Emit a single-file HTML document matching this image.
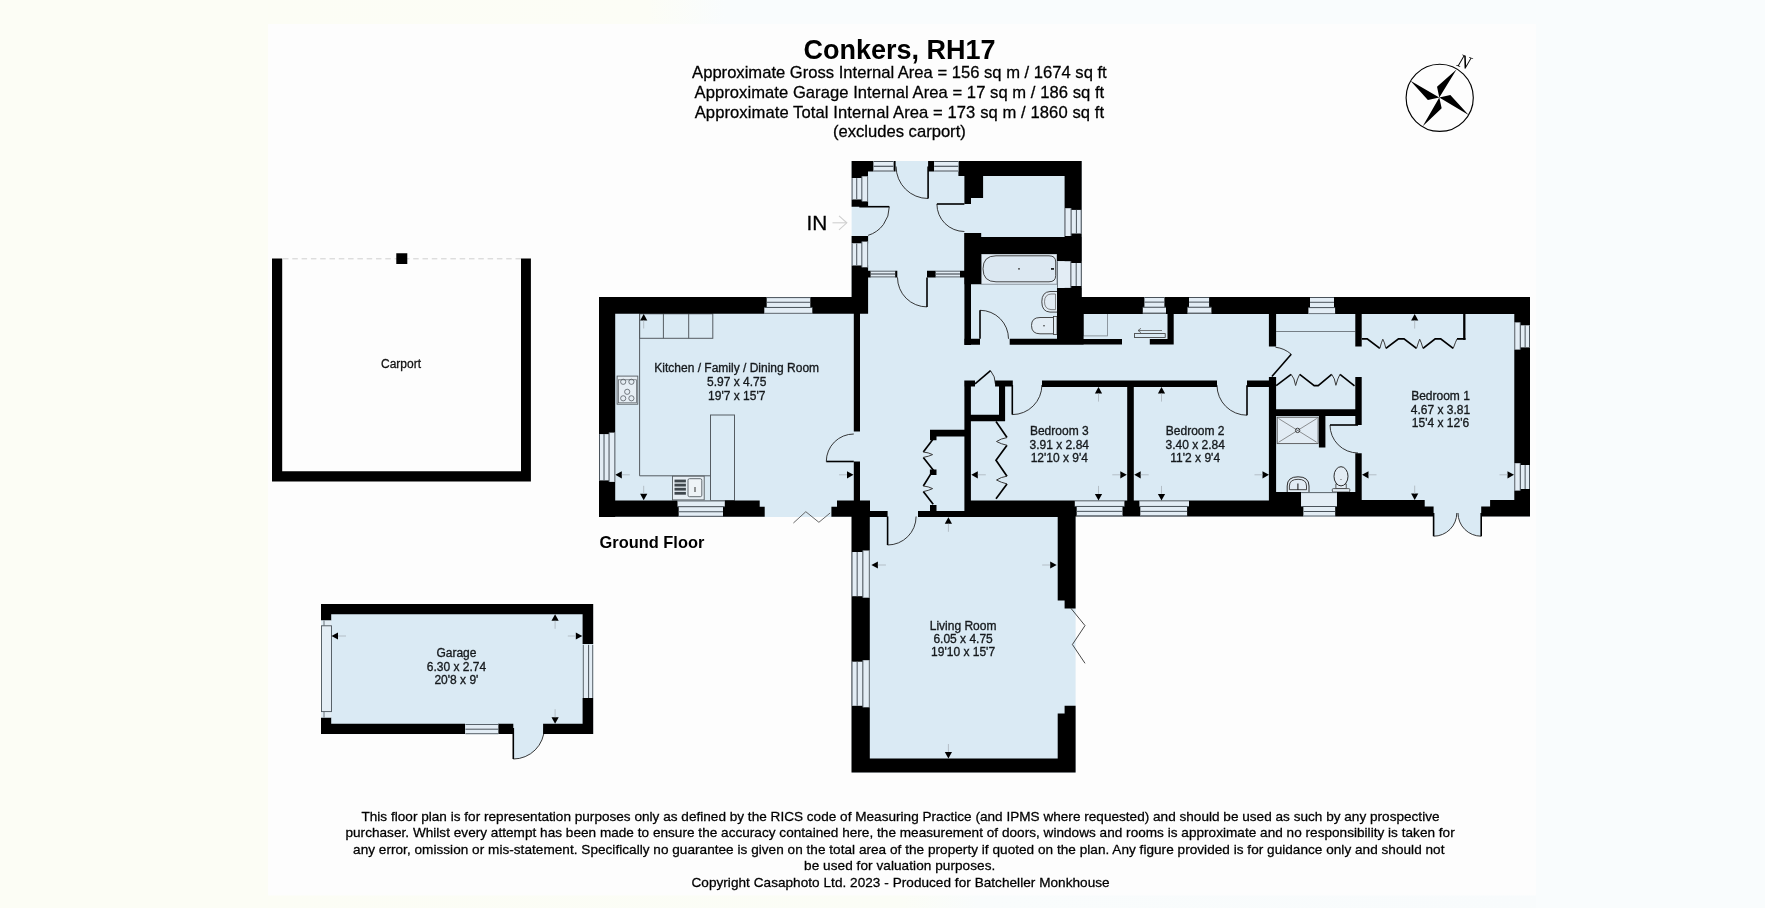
<!DOCTYPE html>
<html><head><meta charset="utf-8"><style>
html,body{margin:0;padding:0;background:#FDFDFD;}
svg{display:block;font-family:"Liberation Sans",sans-serif;will-change:transform;}
</style></head><body>
<svg width="1765" height="908" viewBox="0 0 1765 908">
<rect x="0" y="0" width="1765" height="908" fill="#FDFDFD" />
<rect x="0" y="0" width="268" height="908" fill="#FCFDF5" />
<defs><linearGradient id="tb" x1="0" x2="1" y1="0" y2="0"><stop offset="0" stop-color="#FCFDF5"/><stop offset="0.3" stop-color="#FCFDF6"/><stop offset="0.36" stop-color="#F9FCFD"/><stop offset="1" stop-color="#F9FCFD"/></linearGradient><linearGradient id="bb" x1="0" x2="1" y1="0" y2="0"><stop offset="0" stop-color="#FCFDF5"/><stop offset="0.5" stop-color="#FBFDF6"/><stop offset="0.56" stop-color="#F9FCFC"/><stop offset="1" stop-color="#F8FBFC"/></linearGradient></defs>
<rect x="268" y="0" width="1268" height="24" fill="url(#tb)" />
<rect x="1536" y="0" width="229" height="908" fill="#F9FCFD" />
<rect x="268" y="895.5" width="1268" height="12.5" fill="url(#bb)" />
<circle cx="1439.7" cy="97.8" r="33.6" fill="none" stroke="#000" stroke-width="1.15"/>
<path d="M1439.3,97.6 L1437.03,86.78 L1456.5,69.48 L1439.3,97.6 L1450.32,94.92 L1468.65,114.9 L1439.3,97.6 L1441.67,108.21 L1422.72,126.13 L1439.3,97.6 L1427.87,100.07 L1410.46,80.71 L1439.3,97.6Z" fill="#000"/>
<text x="0" y="0" font-family="Liberation Serif" font-style="italic" font-size="19" fill="#000" transform="translate(1456.2,65.5) rotate(20)">N</text>
<line x1="283" y1="258.8" x2="521" y2="258.8" stroke="#cfcfcf" stroke-width="1" stroke-dasharray="5.5,3.8"/>
<polygon points="851.6,161 1081.7,161 1081.7,297 1530,297 1530,516.5 1075.6,516.5 1075.6,772.6 851.9,772.6 851.9,517 599,517 599,297 851.6,297" fill="#DAEAF4" />
<path d="M1433.6,513 L1433.6,536.2 A23.2,23.2 0 0 0 1456.8,513 Z" fill="#DAEAF4"/>
<path d="M1433.6,536.2 A23.2,23.2 0 0 0 1456.8,513" fill="none" stroke="#222" stroke-width="0.9"/>
<line x1="1433.6" y1="513" x2="1433.6" y2="536.2" stroke="#000" stroke-width="1.6"/>
<path d="M1481.2,513 L1481.2,536.2 A23.2,23.2 0 0 1 1458,513 Z" fill="#DAEAF4"/>
<path d="M1481.2,536.2 A23.2,23.2 0 0 1 1458,513" fill="none" stroke="#222" stroke-width="0.9"/>
<line x1="1481.2" y1="513" x2="1481.2" y2="536.2" stroke="#000" stroke-width="1.6"/>
<line x1="639.6" y1="313.8" x2="639.6" y2="475.8" stroke="#555c62" stroke-width="1"/>
<line x1="639.6" y1="475.8" x2="710.5" y2="475.8" stroke="#555c62" stroke-width="1"/>
<rect x="639.6" y="313.8" width="73.2" height="24.5" fill="none" stroke="#555c62" stroke-width="1"/>
<line x1="663.4" y1="313.8" x2="663.4" y2="338.3" stroke="#555c62" stroke-width="1"/>
<line x1="688.7" y1="313.8" x2="688.7" y2="338.3" stroke="#555c62" stroke-width="1"/>
<rect x="710.5" y="415" width="24" height="85.5" fill="none" stroke="#555c62" stroke-width="1"/>
<rect x="617.1" y="376.1" width="20.7" height="28.1" fill="#E6EEF4" stroke="#555c62" stroke-width="0.9"/>
<rect x="618.6" y="379.8" width="18" height="23" fill="none" stroke="#555c62" stroke-width="0.7"/>
<circle cx="623.2" cy="381.8" r="2.6" fill="none" stroke="#555c62" stroke-width="0.8"/>
<circle cx="631.4" cy="381.8" r="2.6" fill="none" stroke="#555c62" stroke-width="0.8"/>
<circle cx="627.2" cy="391.8" r="2.6" fill="none" stroke="#555c62" stroke-width="0.8"/>
<circle cx="623.2" cy="398.3" r="2.6" fill="none" stroke="#555c62" stroke-width="0.8"/>
<circle cx="631.4" cy="398.3" r="2.6" fill="none" stroke="#555c62" stroke-width="0.8"/>
<rect x="672.5" y="476.2" width="31.7" height="23.7" fill="#E6EEF4" stroke="#555c62" stroke-width="0.9"/>
<rect x="674.5" y="479.6" width="11.4" height="2.8" fill="#3f474d" />
<rect x="674.5" y="483.7" width="11.4" height="2.8" fill="#3f474d" />
<rect x="674.5" y="487.8" width="11.4" height="2.8" fill="#3f474d" />
<rect x="674.5" y="491.9" width="11.4" height="2.8" fill="#3f474d" />
<rect x="688" y="478.7" width="13.8" height="18" rx="1.5" fill="#EEF3F7" stroke="#555c62" stroke-width="0.9"/>
<line x1="695" y1="487" x2="695" y2="492" stroke="#333" stroke-width="1"/>
<path d="M826.3,461.5 A27.5,27.5 0 0 1 853.8,434" fill="none" stroke="#222" stroke-width="0.9"/>
<line x1="853.8" y1="461.5" x2="826.3" y2="461.5" stroke="#000" stroke-width="1.6"/>
<polyline points="793.4,523 805.8,511.7 818.9,522.3 830.1,513" fill="none" stroke="#555" stroke-width="0.9" />
<path d="M889.3,206.7 A30,30 0 0 1 868.07,235.39" fill="none" stroke="#222" stroke-width="0.9"/>
<line x1="859.3" y1="206.7" x2="889.3" y2="206.7" stroke="#000" stroke-width="1.6"/>
<path d="M928.1,198.5 A32,32 0 0 1 896.1,166.5" fill="none" stroke="#222" stroke-width="0.9"/>
<line x1="928.1" y1="166.5" x2="928.1" y2="198.5" stroke="#000" stroke-width="1.6"/>
<path d="M936.9,204 A27.5,27.5 0 0 0 964.4,231.5" fill="none" stroke="#222" stroke-width="0.9"/>
<line x1="964.4" y1="204" x2="936.9" y2="204" stroke="#000" stroke-width="1.6"/>
<path d="M927,306.9 A29.5,29.5 0 0 1 897.5,277.4" fill="none" stroke="#222" stroke-width="0.9"/>
<line x1="927" y1="277.4" x2="927" y2="306.9" stroke="#000" stroke-width="1.6"/>
<path d="M980,310.3 A28.5,28.5 0 0 1 1008.5,338.8" fill="none" stroke="#222" stroke-width="0.9"/>
<line x1="980" y1="338.8" x2="980" y2="310.3" stroke="#000" stroke-width="1.6"/>
<rect x="981.2" y="253.9" width="75.8" height="30.3" fill="#E2ECF4" stroke="#7a838a" stroke-width="0.8"/>
<path d="M996,255.8 L1049,255.8 Q1055.7,255.8 1055.7,262 L1055.7,275.5 Q1055.7,281.8 1049,281.8 L996,281.8 Q983,281.8 983,268.8 Q983,255.8 996,255.8 Z" fill="#DCE8F2" stroke="#333" stroke-width="0.9"/>
<circle cx="1019" cy="268.8" r="0.9" fill="#333"/>
<rect x="1051" y="268" width="3" height="1.8" fill="#222" />
<path d="M1057,291.5 L1050,291.5 Q1041.8,292 1041.8,301.8 Q1041.8,311.6 1050,312.1 L1057,312.1" fill="#E2ECF4" stroke="#333" stroke-width="0.9"/>
<path d="M1055.5,294 L1051,294 Q1044.5,294.5 1044.5,301.8 Q1044.5,309 1051,309.6 L1055.5,309.6 Z" fill="none" stroke="#555" stroke-width="0.7"/>
<path d="M1053.5,317.5 L1040,317.5 Q1031.5,317.5 1031.5,325.5 Q1031.5,333.8 1040,333.8 L1053.5,333.8 Z" fill="#E2ECF4" stroke="#333" stroke-width="0.9"/>
<rect x="1053.5" y="316.5" width="3.5" height="18" fill="#E2ECF4" stroke="#333" stroke-width="0.8"/>
<circle cx="1044" cy="325.8" r="0.8" fill="#333"/>
<rect x="1083.5" y="313.5" width="23.9" height="22.4" fill="none" stroke="#7a838a" stroke-width="0.8"/>
<rect x="1134.4" y="333.6" width="30.8" height="3.8" fill="none" stroke="#333" stroke-width="0.8"/>
<line x1="1138" y1="330.5" x2="1162" y2="330.5" stroke="#555" stroke-width="0.8"/>
<polyline points="1141,328.3 1138,330.5 1141,332.7" fill="none" stroke="#555" stroke-width="0.8" />
<path d="M1012.3,414.6 A29.6,29.6 0 0 0 1041.9,385" fill="none" stroke="#222" stroke-width="0.9"/>
<line x1="1012.3" y1="385" x2="1012.3" y2="414.6" stroke="#000" stroke-width="1.6"/>
<path d="M1247,415.2 A30,30 0 0 1 1217,385.2" fill="none" stroke="#222" stroke-width="0.9"/>
<line x1="1247" y1="385.2" x2="1247" y2="415.2" stroke="#000" stroke-width="1.6"/>
<path d="M990.54,370.68 A20.4,20.4 0 0 1 995.4,383.9" fill="none" stroke="#222" stroke-width="0.9"/>
<line x1="975" y1="383.9" x2="990.54" y2="370.68" stroke="#000" stroke-width="1.6"/>
<polyline points="996,421.6 1007,437.6" fill="none" stroke="#000" stroke-width="1.7" />
<polyline points="1007,445.3 996,460.2 1007,476.2" fill="none" stroke="#000" stroke-width="1.7" />
<polyline points="1007,483.9 996,498.7" fill="none" stroke="#000" stroke-width="1.7" />
<path d="M1007,437.6 Q1001,438.5 996.5,441.5 Q1001,444 1007,445.3 M1007,476.2 Q1001,477 996.5,480 Q1001,482.5 1007,483.9" fill="none" stroke="#3a3a3a" stroke-width="1"/>
<path d="M1291.25,354.24 A29.5,29.5 0 0 0 1275.5,347.22" fill="none" stroke="#222" stroke-width="0.9"/>
<line x1="1271.9" y1="376.5" x2="1291.25" y2="354.24" stroke="#000" stroke-width="1.6"/>
<line x1="1276.1" y1="331.5" x2="1355.3" y2="331.5" stroke="#6a7278" stroke-width="0.9"/>
<polyline points="1276.2,385.6 1291.1,374.3" fill="none" stroke="#000" stroke-width="1.6" />
<polyline points="1299.7,374.3 1314.2,385.6 1318.2,385.6 1331.7,374.3" fill="none" stroke="#000" stroke-width="1.6" />
<polyline points="1340,374.3 1354.5,385.9" fill="none" stroke="#000" stroke-width="1.6" />
<path d="M1291.1,374.3 Q1294.5,378 1295.6,385.5 Q1297.5,378 1299.7,374.3 M1331.7,374.3 Q1334.8,378 1335.9,385.3 Q1337.8,378 1340,374.3" fill="none" stroke="#3a3a3a" stroke-width="1"/>
<path d="M1330,425 A28,28 0 0 0 1358,453" fill="none" stroke="#222" stroke-width="0.9"/>
<line x1="1358" y1="425" x2="1330" y2="425" stroke="#000" stroke-width="1.6"/>
<rect x="1277.2" y="417.2" width="40.9" height="26.4" fill="#E2ECF4" stroke="#555" stroke-width="0.9"/>
<line x1="1278.5" y1="418.5" x2="1316.8" y2="442.3" stroke="#666" stroke-width="0.7"/>
<line x1="1316.8" y1="418.5" x2="1278.5" y2="442.3" stroke="#666" stroke-width="0.7"/>
<circle cx="1297.6" cy="430.4" r="2.2" fill="none" stroke="#333" stroke-width="0.9"/>
<path d="M1287.2,492 L1287.2,486 Q1287.2,476.8 1298.1,476.8 Q1309,476.8 1309,486 L1309,492" fill="#E2ECF4" stroke="#222" stroke-width="0.95"/>
<path d="M1289.4,489.7 L1289.4,486 Q1289.4,479.3 1298.1,479.3 Q1306.5,479.3 1306.5,486 L1306.5,489.7 Z" fill="none" stroke="#333" stroke-width="0.9"/>
<line x1="1297.9" y1="483.5" x2="1297.9" y2="490" stroke="#222" stroke-width="1.1"/>
<rect x="1335.9" y="484" width="10.3" height="4.6" fill="#E2ECF4" stroke="#333" stroke-width="0.8"/>
<ellipse cx="1341" cy="476.3" rx="7" ry="9.6" fill="#E2ECF4" stroke="#222" stroke-width="0.95"/>
<rect x="1332.3" y="488.6" width="17.5" height="3.4" rx="1" fill="#E2ECF4" stroke="#333" stroke-width="0.8"/>
<circle cx="1341" cy="479.5" r="0.6" fill="#555"/>
<line x1="1464.3" y1="313.7" x2="1464.3" y2="339.9" stroke="#000" stroke-width="2.3"/>
<polyline points="1361.8,338.9 1367.2,338.9 1379.8,348.4" fill="none" stroke="#000" stroke-width="1.8" />
<polyline points="1385.9,348.4 1398.5,338.9 1404,338.9 1416.5,348.4" fill="none" stroke="#000" stroke-width="1.8" />
<polyline points="1423,348.4 1435.2,338.9 1440.7,338.9 1453.2,348.4" fill="none" stroke="#000" stroke-width="1.8" />
<polyline points="1457,338.9 1465.5,338.9" fill="none" stroke="#000" stroke-width="1.8" />
<path d="M1379.8,348.4 Q1381.5,342 1382.8,339.2 Q1384.5,342 1385.9,348.4 M1416.5,348.4 Q1418.5,342 1419.7,339.2 Q1421.2,342 1423,348.4 M1453.2,348.4 Q1455.5,342 1457,338.9" fill="none" stroke="#3a3a3a" stroke-width="1"/>
<path d="M887.6,545 A28.5,28.5 0 0 0 916.1,516.5" fill="none" stroke="#222" stroke-width="0.9"/>
<line x1="887.6" y1="516.5" x2="887.6" y2="545" stroke="#000" stroke-width="1.6"/>
<polyline points="932.6,439.8 923.3,452" fill="none" stroke="#000" stroke-width="1.7" />
<polyline points="923.3,457.4 933.2,470.1 923.3,486" fill="none" stroke="#000" stroke-width="1.7" />
<polyline points="923.3,491.6 933.2,504.3" fill="none" stroke="#000" stroke-width="1.7" />
<path d="M923.3,452 Q928.5,452.5 932.6,454.6 Q928.5,456.5 923.3,457.4 M923.3,486 Q928.5,486.5 932.6,488.6 Q928.5,490.6 923.3,491.6" fill="none" stroke="#3a3a3a" stroke-width="1"/>
<polyline points="1071,608.4 1085,625.6 1072.4,644.5 1085,663.3" fill="none" stroke="#333" stroke-width="0.9" />
<polyline points="832.5,222.8 846.5,222.8" fill="none" stroke="#cfcfcf" stroke-width="1.1" />
<polyline points="839,215.8 846.8,222.8 839,229.8" fill="none" stroke="#cfcfcf" stroke-width="1.1" />
<rect x="321" y="604.1" width="272.2" height="130" fill="#DAEAF4" />
<path d="M513.3,728 L513.3,759 A31,31 0 0 0 544.3,728 Z" fill="#DAEAF4"/>
<path d="M513.3,759 A31,31 0 0 0 544.3,728" fill="none" stroke="#222" stroke-width="0.9"/>
<line x1="513.3" y1="728" x2="513.3" y2="759" stroke="#000" stroke-width="1.6"/>
<path fill="#000" d="M272,258.6H282.2V481.4H272ZM521,258.6H530.9V481.4H521ZM272,471.3H530.9V481.4H272ZM396.3,253.2H407.3V264H396.3ZM599,297H853.8V313.8H599ZM599,297H615.2V517H599ZM599,500.5H759.7V516.8H599ZM759.7,506.7H764.7V516.8H759.7ZM831.4,506.7H837V516.8H831.4ZM837,500.5H870V516.8H837ZM853.8,297H860V431.5H853.8ZM853.8,461.5H860V501H853.8ZM851.6,161H873.6V171.5H851.6ZM851.6,171.5H868V178.1H851.6ZM893.4,161H895.6V171.5H893.4ZM928.1,161H934.2V171.5H928.1ZM958.4,161H1081.7V175.9H958.4ZM851.6,199.3H862V206.7H851.6ZM859.3,201.2H868.1V206.7H859.3ZM851.6,236H868.1V243.5H851.6ZM851.6,265.3H868.1V313.7H851.6ZM840,297.2H868.1V313.7H840ZM868.1,270.7H870.8V277.4H868.1ZM895.1,270.7H897.3V277.4H895.1ZM927,270.7H935.8V277.4H927ZM960,270.7H964.4V277.4H960ZM964.4,161H983.1V197.9H964.4ZM964.4,161H971V204H964.4ZM964.4,233.3H971V345H964.4ZM1064.6,161H1081.7V297H1064.6ZM964.4,237H1081.7V253.9H964.4ZM964.2,233H981.2V284.2H964.2ZM1057,237H1081.8V261.2H1057ZM1057,287.9H1081.8V297H1057ZM1057,297H1083.6V344.8H1057ZM964.2,338.8H980V344.8H964.2ZM1009.7,338.8H1083.6V344.8H1009.7ZM1075,339H1122V344.4H1075ZM1149.8,339H1173.7V344.4H1149.8ZM1167.5,313.5H1173.7V344.4H1167.5ZM1075,297H1530V314.1H1075ZM964.3,380.4H975V386.6H964.3ZM995.1,380.4H1012.8V386.6H995.1ZM1042,380.6H1217V387.1H1042ZM1247,380.6H1269.5V387.1H1247ZM964.4,380.6H970.9V517H964.4ZM1127.2,380.6H1133.8V516.5H1127.2ZM1269.5,377H1276.1V516.5H1269.5ZM999,386.6H1005.1V421.3H999ZM970.8,414.8H1005.1V421.3H970.8ZM964.4,500.4H1301.2V516.5H964.4ZM1276,492H1301.2V516.5H1276ZM1336.7,492H1361.7V516.5H1336.7ZM1301,506.5H1303.6V516.5H1301ZM1335.1,506.5H1337V516.5H1335.1ZM1361.7,500.1H1424.7V516.5H1361.7ZM1424.7,506.6H1433.6V516.5H1424.7ZM1481.2,506.6H1490.1V516.5H1481.2ZM1490.1,500.1H1530V516.5H1490.1ZM1268.9,313.5H1276.1V346.4H1268.9ZM1268.9,377H1276.1V516.5H1268.9ZM1355.3,314H1361.7V346.4H1355.3ZM1355.3,377H1361.7V425H1355.3ZM1355.3,453.3H1361.7V516.5H1355.3ZM1276.1,409.3H1361.7V416.1H1276.1ZM1318.9,416.1H1325.4V447.6H1318.9ZM1514.3,297H1530V516.5H1514.3ZM930,429.8H964.6V436.4H930ZM930,429.8H936.5V440.3H930ZM930,505.1H936.5V511H930ZM929.9,469.6H936.5V475H929.9ZM867.8,511H887.6V517H867.8ZM918,511H1075.6V517H918ZM851.5,516.5H869.8V772.6H851.5ZM1057.7,511H1075.6V600.5H1057.7ZM1064.6,600.5H1075.6V608.4H1064.6ZM1064.6,705.7H1075.6V713.6H1064.6ZM1057.7,713.6H1075.6V772.6H1057.7ZM851.9,758.5H1075.6V772.6H851.9ZM321,604.1H593.2V614.3H321ZM321,723.7H465.1V734.1H321ZM497.9,723.7H513.3V734.1H497.9ZM543.1,723.7H593.2V734.1H543.1ZM321,604.1H331.2V620.5H321ZM321,717.5H331.2V734.1H321ZM582.6,604.1H593.2V644.1H582.6ZM582.6,698.1H593.2V734.1H582.6Z"/>
<text x="899.5" y="58.8" font-size="27" font-weight="bold" text-anchor="middle" fill="#000" >Conkers, RH17</text>
<text x="899.4" y="78" font-size="16.6" font-weight="normal" text-anchor="middle" fill="#000"  stroke="#000" stroke-width="0.28">Approximate Gross Internal Area = 156 sq m / 1674 sq ft</text>
<text x="899.4" y="97.75" font-size="16.6" font-weight="normal" text-anchor="middle" fill="#000" textLength="409.6" lengthAdjust="spacing" stroke="#000" stroke-width="0.28">Approximate Garage Internal Area = 17 sq m / 186 sq ft</text>
<text x="899.4" y="117.5" font-size="16.6" font-weight="normal" text-anchor="middle" fill="#000" textLength="409.4" lengthAdjust="spacing" stroke="#000" stroke-width="0.28">Approximate Total Internal Area = 173 sq m / 1860 sq ft</text>
<text x="899.4" y="137.25" font-size="16.6" font-weight="normal" text-anchor="middle" fill="#000"  stroke="#000" stroke-width="0.28">(excludes carport)</text>
<text x="401" y="367.5" font-size="12" font-weight="normal" text-anchor="middle" fill="#111"  stroke="#111" stroke-width="0.28">Carport</text>
<polygon points="643.7,314 640.1,320.5 647.3,320.5" fill="#000" />
<line x1="643.7" y1="320.5" x2="643.7" y2="328.5" stroke="#b4bec6" stroke-width="1"/>
<polygon points="643.7,500.3 640.1,493.8 647.3,493.8" fill="#000" />
<line x1="643.7" y1="493.8" x2="643.7" y2="485.8" stroke="#b4bec6" stroke-width="1"/>
<polygon points="615.3,474.8 621.8,471.2 621.8,478.4" fill="#000" />
<line x1="621.8" y1="474.8" x2="629.8" y2="474.8" stroke="#b4bec6" stroke-width="1"/>
<polygon points="853.5,474.8 847,471.2 847,478.4" fill="#000" />
<line x1="847" y1="474.8" x2="839" y2="474.8" stroke="#b4bec6" stroke-width="1"/>
<text x="736.7" y="372" font-size="12" font-weight="normal" text-anchor="middle" fill="#15191c" stroke="#15191c" stroke-width="0.32">Kitchen / Family / Dining Room</text>
<text x="736.7" y="386.3" font-size="12" font-weight="normal" text-anchor="middle" fill="#15191c" stroke="#15191c" stroke-width="0.32">5.97 x 4.75</text>
<text x="736.7" y="399.6" font-size="12" font-weight="normal" text-anchor="middle" fill="#15191c" stroke="#15191c" stroke-width="0.32">19'7 x 15'7</text>
<rect x="766.7" y="297.1" width="43.6" height="10.35" fill="#E3EDF5" />
<rect x="764.3" y="307.45" width="48" height="6.35" fill="#E3EDF5" />
<line x1="766.7" y1="297.6" x2="810.3" y2="297.6" stroke="#4a535b" stroke-width="1"/>
<line x1="766.7" y1="302.28" x2="810.3" y2="302.28" stroke="#4a535b" stroke-width="1"/>
<line x1="764.3" y1="307.45" x2="812.3" y2="307.45" stroke="#4a535b" stroke-width="1"/>
<line x1="764.3" y1="313.3" x2="812.3" y2="313.3" stroke="#4a535b" stroke-width="0.8"/>
<rect x="599" y="434.1" width="10.04" height="46.3" fill="#E3EDF5" />
<rect x="609.04" y="432.6" width="6.16" height="49.3" fill="#E3EDF5" />
<line x1="599.5" y1="434.1" x2="599.5" y2="480.4" stroke="#4a535b" stroke-width="1"/>
<line x1="604.02" y1="434.1" x2="604.02" y2="480.4" stroke="#4a535b" stroke-width="1"/>
<line x1="609.04" y1="432.6" x2="609.04" y2="481.9" stroke="#4a535b" stroke-width="1"/>
<line x1="614.7" y1="432.6" x2="614.7" y2="481.9" stroke="#4a535b" stroke-width="0.8"/>
<rect x="677.5" y="500.5" width="47.3" height="6.19" fill="#E3EDF5" />
<rect x="678.7" y="506.69" width="44.3" height="10.11" fill="#E3EDF5" />
<line x1="677.5" y1="501" x2="724.8" y2="501" stroke="#4a535b" stroke-width="0.8"/>
<line x1="677.5" y1="506.69" x2="724.8" y2="506.69" stroke="#4a535b" stroke-width="1"/>
<line x1="678.7" y1="511.75" x2="723" y2="511.75" stroke="#4a535b" stroke-width="1"/>
<line x1="678.7" y1="516.3" x2="723" y2="516.3" stroke="#4a535b" stroke-width="1"/>
<rect x="873.6" y="161" width="19.8" height="10.5" fill="#E3EDF5" />
<line x1="873.6" y1="161.5" x2="893.4" y2="161.5" stroke="#4a535b" stroke-width="1"/>
<line x1="873.6" y1="166.3" x2="893.4" y2="166.3" stroke="#4a535b" stroke-width="1.2"/>
<line x1="873.6" y1="171" x2="893.4" y2="171" stroke="#4a535b" stroke-width="1"/>
<rect x="934.2" y="161" width="24.2" height="10.5" fill="#E3EDF5" />
<line x1="934.2" y1="161.5" x2="958.4" y2="161.5" stroke="#4a535b" stroke-width="1"/>
<line x1="934.2" y1="166.3" x2="958.4" y2="166.3" stroke="#4a535b" stroke-width="1.2"/>
<line x1="934.2" y1="171" x2="958.4" y2="171" stroke="#4a535b" stroke-width="1"/>
<rect x="851.6" y="178.1" width="10.23" height="21.2" fill="#E3EDF5" />
<rect x="861.83" y="176.3" width="6.27" height="24.9" fill="#E3EDF5" />
<line x1="852.1" y1="178.1" x2="852.1" y2="199.3" stroke="#4a535b" stroke-width="1"/>
<line x1="856.72" y1="178.1" x2="856.72" y2="199.3" stroke="#4a535b" stroke-width="1"/>
<line x1="861.83" y1="176.3" x2="861.83" y2="201.2" stroke="#4a535b" stroke-width="1"/>
<line x1="867.6" y1="176.3" x2="867.6" y2="201.2" stroke="#4a535b" stroke-width="0.8"/>
<rect x="851.6" y="243.5" width="10.23" height="21.8" fill="#E3EDF5" />
<rect x="861.83" y="241.6" width="6.27" height="25.7" fill="#E3EDF5" />
<line x1="852.1" y1="243.5" x2="852.1" y2="265.3" stroke="#4a535b" stroke-width="1"/>
<line x1="856.72" y1="243.5" x2="856.72" y2="265.3" stroke="#4a535b" stroke-width="1"/>
<line x1="861.83" y1="241.6" x2="861.83" y2="267.3" stroke="#4a535b" stroke-width="1"/>
<line x1="867.6" y1="241.6" x2="867.6" y2="267.3" stroke="#4a535b" stroke-width="0.8"/>
<rect x="870.8" y="270.7" width="24.3" height="6.7" fill="#E3EDF5" />
<line x1="870.8" y1="271.2" x2="895.1" y2="271.2" stroke="#4a535b" stroke-width="0.9"/>
<line x1="870.8" y1="274" x2="895.1" y2="274" stroke="#4a535b" stroke-width="1.2"/>
<line x1="870.8" y1="276.9" x2="895.1" y2="276.9" stroke="#4a535b" stroke-width="0.9"/>
<rect x="935.8" y="270.7" width="24.2" height="6.7" fill="#E3EDF5" />
<line x1="935.8" y1="271.2" x2="960" y2="271.2" stroke="#4a535b" stroke-width="0.9"/>
<line x1="935.8" y1="274" x2="960" y2="274" stroke="#4a535b" stroke-width="1.2"/>
<line x1="935.8" y1="276.9" x2="960" y2="276.9" stroke="#4a535b" stroke-width="0.9"/>
<rect x="1064.6" y="208.2" width="6.5" height="27.8" fill="#E3EDF5" />
<rect x="1071.1" y="209.9" width="10.6" height="23.6" fill="#E3EDF5" />
<line x1="1065.1" y1="208.2" x2="1065.1" y2="236" stroke="#4a535b" stroke-width="0.8"/>
<line x1="1071.1" y1="208.2" x2="1071.1" y2="236" stroke="#4a535b" stroke-width="1"/>
<line x1="1076.4" y1="209.9" x2="1076.4" y2="233.5" stroke="#4a535b" stroke-width="1"/>
<line x1="1081.2" y1="209.9" x2="1081.2" y2="233.5" stroke="#4a535b" stroke-width="1"/>
<rect x="1057" y="261.2" width="13.9" height="26.7" fill="#E3EDF5" />
<rect x="1070.9" y="263" width="10.9" height="23" fill="#E3EDF5" />
<line x1="1057.5" y1="261.2" x2="1057.5" y2="287.9" stroke="#4a535b" stroke-width="0.8"/>
<line x1="1070.9" y1="261.2" x2="1070.9" y2="287.9" stroke="#4a535b" stroke-width="1"/>
<line x1="1076.2" y1="263" x2="1076.2" y2="286" stroke="#4a535b" stroke-width="1"/>
<line x1="1081.3" y1="263" x2="1081.3" y2="286" stroke="#4a535b" stroke-width="1"/>
<rect x="1144.4" y="297" width="20" height="10.23" fill="#E3EDF5" />
<rect x="1142.8" y="307.23" width="23.2" height="6.27" fill="#E3EDF5" />
<line x1="1144.4" y1="297.5" x2="1164.4" y2="297.5" stroke="#4a535b" stroke-width="1"/>
<line x1="1144.4" y1="302.12" x2="1164.4" y2="302.12" stroke="#4a535b" stroke-width="1"/>
<line x1="1142.8" y1="307.23" x2="1166" y2="307.23" stroke="#4a535b" stroke-width="1"/>
<line x1="1142.8" y1="313" x2="1166" y2="313" stroke="#4a535b" stroke-width="0.8"/>
<rect x="1189" y="297" width="20.1" height="10.23" fill="#E3EDF5" />
<rect x="1187.5" y="307.23" width="23.9" height="6.27" fill="#E3EDF5" />
<line x1="1189" y1="297.5" x2="1209.1" y2="297.5" stroke="#4a535b" stroke-width="1"/>
<line x1="1189" y1="302.12" x2="1209.1" y2="302.12" stroke="#4a535b" stroke-width="1"/>
<line x1="1187.5" y1="307.23" x2="1211.4" y2="307.23" stroke="#4a535b" stroke-width="1"/>
<line x1="1187.5" y1="313" x2="1211.4" y2="313" stroke="#4a535b" stroke-width="0.8"/>
<rect x="1310" y="297" width="24" height="10.6" fill="#E3EDF5" />
<rect x="1308.4" y="307.6" width="26.7" height="6.5" fill="#E3EDF5" />
<line x1="1310" y1="297.5" x2="1334" y2="297.5" stroke="#4a535b" stroke-width="1"/>
<line x1="1310" y1="302.3" x2="1334" y2="302.3" stroke="#4a535b" stroke-width="1"/>
<line x1="1308.4" y1="307.6" x2="1335.1" y2="307.6" stroke="#4a535b" stroke-width="1"/>
<line x1="1308.4" y1="313.6" x2="1335.1" y2="313.6" stroke="#4a535b" stroke-width="0.8"/>
<rect x="1074.8" y="500.4" width="49.6" height="6.04" fill="#E3EDF5" />
<rect x="1076.7" y="506.44" width="45.8" height="9.86" fill="#E3EDF5" />
<line x1="1074.8" y1="500.9" x2="1124.4" y2="500.9" stroke="#4a535b" stroke-width="0.8"/>
<line x1="1074.8" y1="506.44" x2="1124.4" y2="506.44" stroke="#4a535b" stroke-width="1"/>
<line x1="1076.7" y1="511.37" x2="1122.5" y2="511.37" stroke="#4a535b" stroke-width="1"/>
<line x1="1076.7" y1="515.8" x2="1122.5" y2="515.8" stroke="#4a535b" stroke-width="1"/>
<rect x="1139.4" y="500.4" width="49.6" height="6.04" fill="#E3EDF5" />
<rect x="1140.3" y="506.44" width="46.8" height="9.86" fill="#E3EDF5" />
<line x1="1139.4" y1="500.9" x2="1189" y2="500.9" stroke="#4a535b" stroke-width="0.8"/>
<line x1="1139.4" y1="506.44" x2="1189" y2="506.44" stroke="#4a535b" stroke-width="1"/>
<line x1="1140.3" y1="511.37" x2="1187.1" y2="511.37" stroke="#4a535b" stroke-width="1"/>
<line x1="1140.3" y1="515.8" x2="1187.1" y2="515.8" stroke="#4a535b" stroke-width="1"/>
<polygon points="1098.5,387.1 1094.9,393.6 1102.1,393.6" fill="#000" />
<line x1="1098.5" y1="393.6" x2="1098.5" y2="401.6" stroke="#b4bec6" stroke-width="1"/>
<polygon points="1098.5,500.4 1094.9,493.9 1102.1,493.9" fill="#000" />
<line x1="1098.5" y1="493.9" x2="1098.5" y2="485.9" stroke="#b4bec6" stroke-width="1"/>
<polygon points="971.3,474.8 977.8,471.2 977.8,478.4" fill="#000" />
<line x1="977.8" y1="474.8" x2="985.8" y2="474.8" stroke="#b4bec6" stroke-width="1"/>
<polygon points="1126.8,474.8 1120.3,471.2 1120.3,478.4" fill="#000" />
<line x1="1120.3" y1="474.8" x2="1112.3" y2="474.8" stroke="#b4bec6" stroke-width="1"/>
<polygon points="1161.5,387.1 1157.9,393.6 1165.1,393.6" fill="#000" />
<line x1="1161.5" y1="393.6" x2="1161.5" y2="401.6" stroke="#b4bec6" stroke-width="1"/>
<polygon points="1161.5,500.4 1157.9,493.9 1165.1,493.9" fill="#000" />
<line x1="1161.5" y1="493.9" x2="1161.5" y2="485.9" stroke="#b4bec6" stroke-width="1"/>
<polygon points="1134.2,474.8 1140.7,471.2 1140.7,478.4" fill="#000" />
<line x1="1140.7" y1="474.8" x2="1148.7" y2="474.8" stroke="#b4bec6" stroke-width="1"/>
<polygon points="1269,474.8 1262.5,471.2 1262.5,478.4" fill="#000" />
<line x1="1262.5" y1="474.8" x2="1254.5" y2="474.8" stroke="#b4bec6" stroke-width="1"/>
<text x="1059.3" y="434.5" font-size="12" font-weight="normal" text-anchor="middle" fill="#15191c" stroke="#15191c" stroke-width="0.32">Bedroom 3</text>
<text x="1059.3" y="448.6" font-size="12" font-weight="normal" text-anchor="middle" fill="#15191c" stroke="#15191c" stroke-width="0.32">3.91 x 2.84</text>
<text x="1059.3" y="461.7" font-size="12" font-weight="normal" text-anchor="middle" fill="#15191c" stroke="#15191c" stroke-width="0.32">12'10 x 9'4</text>
<text x="1195.2" y="434.5" font-size="12" font-weight="normal" text-anchor="middle" fill="#15191c" stroke="#15191c" stroke-width="0.32">Bedroom 2</text>
<text x="1195.2" y="448.6" font-size="12" font-weight="normal" text-anchor="middle" fill="#15191c" stroke="#15191c" stroke-width="0.32">3.40 x 2.84</text>
<text x="1195.2" y="461.7" font-size="12" font-weight="normal" text-anchor="middle" fill="#15191c" stroke="#15191c" stroke-width="0.32">11'2 x 9'4</text>
<rect x="1301.1" y="492.2" width="35.8" height="14.3" fill="#E3EDF5" />
<rect x="1303.6" y="506.5" width="31.5" height="9.9" fill="#E3EDF5" />
<line x1="1301.1" y1="492.6" x2="1336.9" y2="492.6" stroke="#4a535b" stroke-width="0.9"/>
<line x1="1301.1" y1="506.5" x2="1336.9" y2="506.5" stroke="#4a535b" stroke-width="1"/>
<line x1="1303.6" y1="511.5" x2="1335.1" y2="511.5" stroke="#4a535b" stroke-width="1"/>
<line x1="1303.6" y1="516" x2="1335.1" y2="516" stroke="#4a535b" stroke-width="0.9"/>
<rect x="1514.3" y="322.4" width="5.97" height="27.2" fill="#E3EDF5" />
<rect x="1520.27" y="325.3" width="9.73" height="22.1" fill="#E3EDF5" />
<line x1="1514.8" y1="322.4" x2="1514.8" y2="349.6" stroke="#4a535b" stroke-width="0.8"/>
<line x1="1520.27" y1="322.4" x2="1520.27" y2="349.6" stroke="#4a535b" stroke-width="1"/>
<line x1="1525.13" y1="325.3" x2="1525.13" y2="347.4" stroke="#4a535b" stroke-width="1"/>
<line x1="1529.5" y1="325.3" x2="1529.5" y2="347.4" stroke="#4a535b" stroke-width="1"/>
<rect x="1514.3" y="463.2" width="5.97" height="27.4" fill="#E3EDF5" />
<rect x="1520.27" y="465" width="9.73" height="24" fill="#E3EDF5" />
<line x1="1514.8" y1="463.2" x2="1514.8" y2="490.6" stroke="#4a535b" stroke-width="0.8"/>
<line x1="1520.27" y1="463.2" x2="1520.27" y2="490.6" stroke="#4a535b" stroke-width="1"/>
<line x1="1525.13" y1="465" x2="1525.13" y2="489" stroke="#4a535b" stroke-width="1"/>
<line x1="1529.5" y1="465" x2="1529.5" y2="489" stroke="#4a535b" stroke-width="1"/>
<polygon points="1414.7,314.1 1411.1,320.6 1418.3,320.6" fill="#000" />
<line x1="1414.7" y1="320.6" x2="1414.7" y2="328.6" stroke="#b4bec6" stroke-width="1"/>
<polygon points="1414.7,500.1 1411.1,493.6 1418.3,493.6" fill="#000" />
<line x1="1414.7" y1="493.6" x2="1414.7" y2="485.6" stroke="#b4bec6" stroke-width="1"/>
<polygon points="1362,474.8 1368.5,471.2 1368.5,478.4" fill="#000" />
<line x1="1368.5" y1="474.8" x2="1376.5" y2="474.8" stroke="#b4bec6" stroke-width="1"/>
<polygon points="1514,474.8 1507.5,471.2 1507.5,478.4" fill="#000" />
<line x1="1507.5" y1="474.8" x2="1499.5" y2="474.8" stroke="#b4bec6" stroke-width="1"/>
<text x="1440.5" y="399.6" font-size="12" font-weight="normal" text-anchor="middle" fill="#15191c" stroke="#15191c" stroke-width="0.32">Bedroom 1</text>
<text x="1440.5" y="413.6" font-size="12" font-weight="normal" text-anchor="middle" fill="#15191c" stroke="#15191c" stroke-width="0.32">4.67 x 3.81</text>
<text x="1440.5" y="426.6" font-size="12" font-weight="normal" text-anchor="middle" fill="#15191c" stroke="#15191c" stroke-width="0.32">15'4 x 12'6</text>
<rect x="851.5" y="552" width="11.35" height="44.2" fill="#E3EDF5" />
<rect x="862.85" y="550.5" width="6.95" height="47.2" fill="#E3EDF5" />
<line x1="852" y1="552" x2="852" y2="596.2" stroke="#4a535b" stroke-width="1"/>
<line x1="857.17" y1="552" x2="857.17" y2="596.2" stroke="#4a535b" stroke-width="1"/>
<line x1="862.85" y1="550.5" x2="862.85" y2="597.7" stroke="#4a535b" stroke-width="1"/>
<line x1="869.3" y1="550.5" x2="869.3" y2="597.7" stroke="#4a535b" stroke-width="0.8"/>
<rect x="851.5" y="661.7" width="11.35" height="44.1" fill="#E3EDF5" />
<rect x="862.85" y="660.2" width="6.95" height="47.1" fill="#E3EDF5" />
<line x1="852" y1="661.7" x2="852" y2="705.8" stroke="#4a535b" stroke-width="1"/>
<line x1="857.17" y1="661.7" x2="857.17" y2="705.8" stroke="#4a535b" stroke-width="1"/>
<line x1="862.85" y1="660.2" x2="862.85" y2="707.3" stroke="#4a535b" stroke-width="1"/>
<line x1="869.3" y1="660.2" x2="869.3" y2="707.3" stroke="#4a535b" stroke-width="0.8"/>
<polygon points="948.4,517.3 944.8,523.8 952,523.8" fill="#000" />
<line x1="948.4" y1="523.8" x2="948.4" y2="531.8" stroke="#b4bec6" stroke-width="1"/>
<polygon points="948.4,758.5 944.8,752 952,752" fill="#000" />
<line x1="948.4" y1="752" x2="948.4" y2="744" stroke="#b4bec6" stroke-width="1"/>
<polygon points="871.4,565 877.9,561.4 877.9,568.6" fill="#000" />
<line x1="877.9" y1="565" x2="885.9" y2="565" stroke="#b4bec6" stroke-width="1"/>
<polygon points="1056.7,565 1050.2,561.4 1050.2,568.6" fill="#000" />
<line x1="1050.2" y1="565" x2="1042.2" y2="565" stroke="#b4bec6" stroke-width="1"/>
<text x="963.1" y="629.7" font-size="12" font-weight="normal" text-anchor="middle" fill="#15191c" stroke="#15191c" stroke-width="0.32">Living Room</text>
<text x="963.1" y="643.4" font-size="12" font-weight="normal" text-anchor="middle" fill="#15191c" stroke="#15191c" stroke-width="0.32">6.05 x 4.75</text>
<text x="963.1" y="656.1" font-size="12" font-weight="normal" text-anchor="middle" fill="#15191c" stroke="#15191c" stroke-width="0.32">19'10 x 15'7</text>
<text x="806.6" y="229.8" font-size="20.8" font-weight="normal" text-anchor="start" fill="#000"  stroke="#000" stroke-width="0.28">IN</text>
<rect x="321" y="620.5" width="10.2" height="97" fill="#E3EDF5" />
<line x1="324" y1="620.5" x2="324" y2="625.8" stroke="#4a535b" stroke-width="0.8"/>
<line x1="324" y1="711.6" x2="324" y2="717.5" stroke="#4a535b" stroke-width="0.8"/>
<rect x="321.5" y="625.8" width="10" height="85.8" fill="#E3EDF5" stroke="#4a535b" stroke-width="0.9"/>
<rect x="582.8" y="644.8" width="10.4" height="53.2" fill="#E3EDF5" />
<line x1="583.3" y1="644.8" x2="583.3" y2="698" stroke="#4a535b" stroke-width="0.9"/>
<line x1="588.6" y1="644.8" x2="588.6" y2="698" stroke="#4a535b" stroke-width="1"/>
<line x1="592.7" y1="644.8" x2="592.7" y2="698" stroke="#4a535b" stroke-width="0.9"/>
<rect x="465.4" y="724" width="33" height="10.2" fill="#E3EDF5" />
<line x1="465.4" y1="724.5" x2="498.4" y2="724.5" stroke="#4a535b" stroke-width="0.9"/>
<line x1="465.4" y1="729.2" x2="498.4" y2="729.2" stroke="#4a535b" stroke-width="1"/>
<line x1="465.4" y1="733.7" x2="498.4" y2="733.7" stroke="#4a535b" stroke-width="0.9"/>
<polygon points="555.1,614.3 551.5,620.8 558.7,620.8" fill="#000" />
<line x1="555.1" y1="620.8" x2="555.1" y2="628.8" stroke="#b4bec6" stroke-width="1"/>
<polygon points="555.1,723.7 551.5,717.2 558.7,717.2" fill="#000" />
<line x1="555.1" y1="717.2" x2="555.1" y2="709.2" stroke="#b4bec6" stroke-width="1"/>
<polygon points="331.5,636 338,632.4 338,639.6" fill="#000" />
<line x1="338" y1="636" x2="346" y2="636" stroke="#b4bec6" stroke-width="1"/>
<polygon points="582.3,636 575.8,632.4 575.8,639.6" fill="#000" />
<line x1="575.8" y1="636" x2="567.8" y2="636" stroke="#b4bec6" stroke-width="1"/>
<text x="456.4" y="656.9" font-size="12" font-weight="normal" text-anchor="middle" fill="#15191c" stroke="#15191c" stroke-width="0.32">Garage</text>
<text x="456.4" y="671.05" font-size="12" font-weight="normal" text-anchor="middle" fill="#15191c" stroke="#15191c" stroke-width="0.32">6.30 x 2.74</text>
<text x="456.4" y="684.2" font-size="12" font-weight="normal" text-anchor="middle" fill="#15191c" stroke="#15191c" stroke-width="0.32">20'8 x 9'</text>
<text x="900.5" y="821" font-size="13.57" font-weight="normal" text-anchor="middle" fill="#000" textLength="1078.05" lengthAdjust="spacing" stroke="#000" stroke-width="0.28">This floor plan is for representation purposes only as defined by the RICS code of Measuring Practice (and IPMS where requested) and should be used as such by any prospective</text>
<text x="900.1" y="837.42" font-size="13.57" font-weight="normal" text-anchor="middle" fill="#000" textLength="1109.23" lengthAdjust="spacing" stroke="#000" stroke-width="0.28">purchaser. Whilst every attempt has been made to ensure the accuracy contained here, the measurement of doors, windows and rooms is approximate and no responsibility is taken for</text>
<text x="898.75" y="853.84" font-size="13.57" font-weight="normal" text-anchor="middle" fill="#000" textLength="1091.39" lengthAdjust="spacing" stroke="#000" stroke-width="0.28">any error, omission or mis-statement. Specifically no guarantee is given on the total area of the property if quoted on the plan. Any figure provided is for guidance only and should not</text>
<text x="899.65" y="870.26" font-size="13.57" font-weight="normal" text-anchor="middle" fill="#000" textLength="191.25" lengthAdjust="spacing" stroke="#000" stroke-width="0.28">be used for valuation purposes.</text>
<text x="900.55" y="886.68" font-size="13.57" font-weight="normal" text-anchor="middle" fill="#000" textLength="418.14" lengthAdjust="spacing" stroke="#000" stroke-width="0.28">Copyright Casaphoto Ltd. 2023 - Produced for Batcheller Monkhouse</text>
<text x="599.6" y="547.6" font-size="16.4" font-weight="bold" text-anchor="start" fill="#000" >Ground Floor</text>
</svg></body></html>
